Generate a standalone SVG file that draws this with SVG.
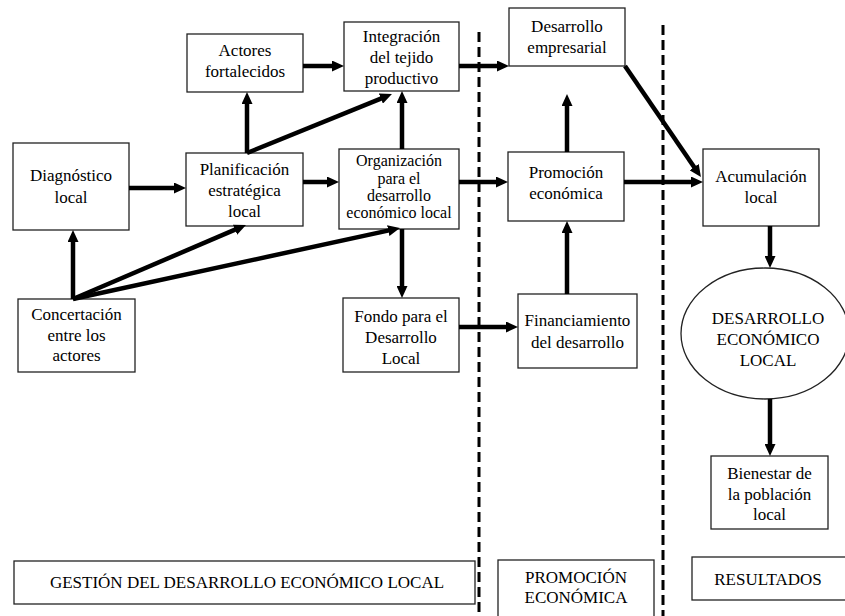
<svg xmlns="http://www.w3.org/2000/svg" width="845" height="616" viewBox="0 0 845 616">
<style>
.box{fill:#fff;stroke:#222;stroke-width:1.3}
.t{font-family:'Liberation Serif','Times New Roman',Tinos,'DejaVu Serif',serif;font-size:17px;fill:#000;text-anchor:middle}
.s{font-size:16px}
.c line{stroke:#000;stroke-width:4.5;marker-end:url(#ah)}
.dash{stroke:#000;stroke-width:3;stroke-dasharray:10 5}
</style>
<defs>
<marker id="ah" markerUnits="userSpaceOnUse" markerWidth="12" markerHeight="11" refX="2" refY="5.5" orient="auto">
<path d="M0,0 L12,5.5 L0,11 z" fill="#000"/>
</marker>
</defs>
<rect width="845" height="616" fill="#fff"/>
<line class="dash" x1="479" y1="32" x2="479" y2="616"/>
<line class="dash" x1="663" y1="25" x2="663" y2="616"/>
<g id="actores"><rect class="box" x="187" y="34" width="116" height="58"/><text class="t" x="245" y="56">Actores</text><text class="t" x="245" y="77">fortalecidos</text></g>
<g id="integracion"><rect class="box" x="344" y="22" width="115" height="69"/><text class="t" x="401.5" y="41.5">Integración</text><text class="t" x="401.5" y="62.5">del tejido</text><text class="t" x="401.5" y="83.5">productivo</text></g>
<g id="diagnostico"><rect class="box" x="13" y="143" width="116" height="87"/><text class="t" x="71" y="181">Diagnóstico</text><text class="t" x="71" y="203">local</text></g>
<g id="planificacion"><rect class="box" x="186" y="153" width="117" height="73"/><text class="t" x="244.5" y="175">Planificación</text><text class="t" x="244.5" y="196">estratégica</text><text class="t" x="244.5" y="217">local</text></g>
<g id="organizacion"><rect class="box" x="339" y="149" width="120" height="80"/><text class="t s" x="399" y="166">Organización</text><text class="t s" x="399" y="184">para el</text><text class="t s" x="399" y="201">desarrollo</text><text class="t s" x="399" y="218">económico local</text></g>
<g id="empresarial"><rect class="box" x="509" y="8" width="116" height="58"/><text class="t" x="567" y="32">Desarrollo</text><text class="t" x="567" y="53">empresarial</text></g>
<g id="promocion"><rect class="box" x="508" y="152" width="116" height="69"/><text class="t" x="566" y="178">Promoción</text><text class="t" x="566" y="199">económica</text></g>
<g id="acumulacion"><rect class="box" x="703" y="149" width="116" height="77"/><text class="t" x="761" y="182">Acumulación</text><text class="t" x="761" y="203">local</text></g>
<g id="concertacion"><rect class="box" x="18" y="299" width="117" height="73"/><text class="t" x="76.5" y="320">Concertación</text><text class="t" x="76.5" y="341">entre los</text><text class="t" x="76.5" y="361">actores</text></g>
<g id="fondo"><rect class="box" x="343" y="298" width="116" height="74"/><text class="t" x="401" y="322">Fondo para el</text><text class="t" x="401" y="343">Desarrollo</text><text class="t" x="401" y="364">Local</text></g>
<g id="financiamiento"><rect class="box" x="518" y="294" width="119" height="74"/><text class="t" x="577.5" y="326">Financiamiento</text><text class="t" x="577.5" y="348">del desarrollo</text></g>
<g id="del"><ellipse class="box" cx="765" cy="333.5" rx="84" ry="65.5"/><text class="t" x="768" y="324">DESARROLLO</text><text class="t" x="768" y="345">ECONÓMICO</text><text class="t" x="768" y="366">LOCAL</text></g>
<g id="bienestar"><rect class="box" x="711" y="456" width="117" height="73"/><text class="t" x="769.5" y="479">Bienestar de</text><text class="t" x="769.5" y="500">la población</text><text class="t" x="769.5" y="520">local</text></g>
<g id="gestion"><rect class="box" x="14" y="561" width="461" height="43"/><text class="t" x="247" y="588">GESTIÓN DEL DESARROLLO ECONÓMICO LOCAL</text></g>
<g id="promocion-label"><rect class="box" x="498" y="560" width="156" height="60"/><text class="t" x="576" y="583">PROMOCIÓN</text><text class="t" x="576" y="603">ECONÓMICA</text></g>
<g id="resultados"><rect class="box" x="692" y="557" width="156" height="43"/><text class="t" x="768" y="585">RESULTADOS</text></g>
<g id="connectors" class="c">
<line x1="129" y1="188" x2="176" y2="188"/>
<line x1="303" y1="182" x2="329" y2="182"/>
<line x1="247" y1="153" x2="247" y2="102"/>
<line x1="247" y1="153" x2="382.7" y2="97.8"/>
<line x1="303" y1="66" x2="334" y2="66"/>
<line x1="402" y1="149" x2="402" y2="101"/>
<line x1="459" y1="66" x2="499" y2="66"/>
<line x1="459" y1="182" x2="498" y2="182"/>
<line x1="567" y1="152" x2="567" y2="104"/>
<line x1="625" y1="66" x2="695.3" y2="168.7"/>
<line x1="624" y1="182" x2="693" y2="182"/>
<line x1="73" y1="299" x2="73" y2="240"/>
<line x1="73" y1="299" x2="236.8" y2="228.9"/>
<line x1="73" y1="299" x2="390.2" y2="230.1"/>
<line x1="402" y1="229" x2="402" y2="288"/>
<line x1="459" y1="327" x2="508" y2="327"/>
<line x1="567" y1="294" x2="567" y2="231"/>
<line x1="770" y1="226" x2="770" y2="258"/>
<line x1="770" y1="399" x2="770" y2="446"/>
</g>
</svg>
